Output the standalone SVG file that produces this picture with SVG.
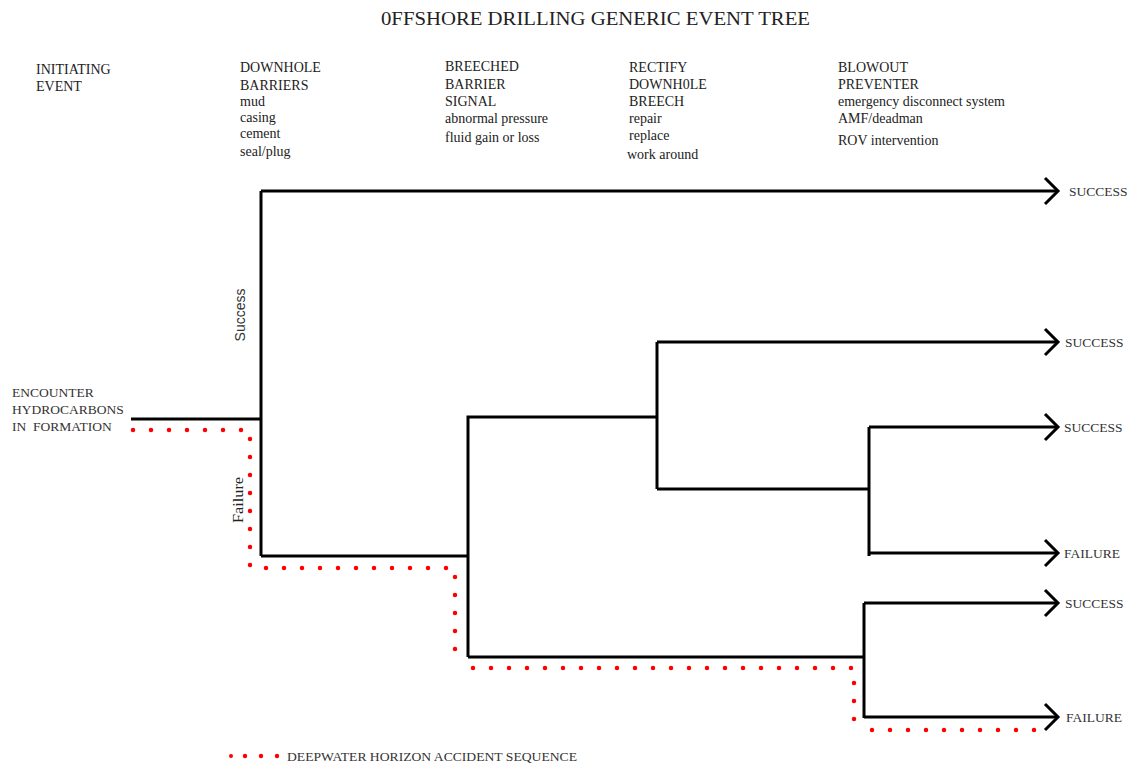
<svg xmlns="http://www.w3.org/2000/svg" width="1131" height="764" viewBox="0 0 1131 764">
<style>
.t{font-family:"Liberation Serif","Times New Roman",serif;font-size:14px;fill:#222}
.title{font-family:"Liberation Serif","Times New Roman",serif;font-size:19px;fill:#222}
.lab{font-family:"Liberation Serif","Times New Roman",serif;font-size:13.5px;fill:#333}
.sans{font-family:"Liberation Sans",Arial,sans-serif;font-size:14px;fill:#333}
.ln{fill:none;stroke:#000;stroke-width:3;stroke-linejoin:miter}
.arr{fill:none;stroke:#000;stroke-width:3;marker-end:url(#chev)}
.dots{fill:none;stroke:#ff0000;stroke-width:4.5;stroke-linecap:round;stroke-dasharray:0 18}
</style>
<defs>
<marker id="chev" markerUnits="userSpaceOnUse" viewBox="-16 -16 20 32" refX="0" refY="0" markerWidth="20" markerHeight="32" orient="auto" overflow="visible">
<path d="M-13,-13 L0,0 L-13,13" fill="none" stroke="#000" stroke-width="3"/>
</marker>
</defs>
<rect width="1131" height="764" fill="#fff"/>
<g id="title"><text class="title" x="381" y="25" textLength="429" lengthAdjust="spacingAndGlyphs">0FFSHORE DRILLING GENERIC EVENT TREE</text></g>
<g id="col-initiating">
<text class="t" x="36" y="74">INITIATING</text>
<text class="t" x="36" y="91">EVENT</text>
</g>
<g id="col-downhole">
<text class="t" x="240" y="72">DOWNHOLE</text>
<text class="t" x="240" y="90">BARRIERS</text>
<text class="t" x="240" y="106">mud</text>
<text class="t" x="240" y="122">casing</text>
<text class="t" x="240" y="138">cement</text>
<text class="t" x="240" y="156">seal/plug</text>
</g>
<g id="col-breeched">
<text class="t" x="445" y="71">BREECHED</text>
<text class="t" x="445" y="89">BARRIER</text>
<text class="t" x="445" y="106">SIGNAL</text>
<text class="t" x="445" y="123">abnormal pressure</text>
<text class="t" x="445" y="142">fluid gain or loss</text>
</g>
<g id="col-rectify">
<text class="t" x="629" y="72">RECTIFY</text>
<text class="t" x="629" y="89">DOWNH0LE</text>
<text class="t" x="629" y="106">BREECH</text>
<text class="t" x="629" y="123">repair</text>
<text class="t" x="629" y="140">replace</text>
<text class="t" x="627" y="159">work around</text>
</g>
<g id="col-bop">
<text class="t" x="838" y="72">BLOWOUT</text>
<text class="t" x="838" y="89">PREVENTER</text>
<text class="t" x="838" y="106">emergency disconnect system</text>
<text class="t" x="838" y="123">AMF/deadman</text>
<text class="t" x="838" y="145">ROV intervention</text>
</g>
<g id="initiating-event">
<text class="lab" x="12" y="397">ENCOUNTER</text>
<text class="lab" x="12" y="414">HYDROCARBONS</text>
<text class="lab" x="12" y="431">IN&#160; FORMATION</text>
</g>
<g id="branch-labels">
<text class="sans" transform="translate(245,315) rotate(-90)" text-anchor="middle">Success</text>
<text class="t" transform="translate(243,500) rotate(-90)" text-anchor="middle" font-size="15" textLength="46" lengthAdjust="spacingAndGlyphs">Failure</text>
</g>
<g id="outcomes">
<text class="lab" x="1069" y="196">SUCCESS</text>
<text class="lab" x="1065" y="347">SUCCESS</text>
<text class="lab" x="1064" y="432">SUCCESS</text>
<text class="lab" x="1064" y="558">FAILURE</text>
<text class="lab" x="1065" y="608">SUCCESS</text>
<text class="lab" x="1066" y="722">FAILURE</text>
</g>
<g id="connectors">
<path class="ln" d="M131,419 H261"/>
<path class="ln" d="M261,556 V191"/>
<path class="arr" d="M261,191 H1058"/>
<path class="ln" d="M261,556 H468"/>
<path class="ln" d="M468,657 V417 H657"/>
<path class="ln" d="M657,489 V342"/>
<path class="arr" d="M657,342 H1058"/>
<path class="ln" d="M657,489 H869"/>
<path class="ln" d="M869,556 V427"/>
<path class="arr" d="M869,427 H1058"/>
<path class="arr" d="M869,553 H1058"/>
<path class="ln" d="M468,657 H864"/>
<path class="ln" d="M864,718 V603"/>
<path class="arr" d="M864,603 H1058"/>
<path class="arr" d="M864,717 H1058"/>
</g>
<g id="accident-sequence">
<path class="dots" d="M133,430 H250 V566"/>
<path class="dots" d="M266,568 H455 V666"/>
<path class="dots" d="M473,668 H854 V729"/>
<path class="dots" d="M872,730 H1044"/>
</g>
<g id="legend">
<g fill="#ff0000"><circle cx="231" cy="756" r="2"/><circle cx="245" cy="756" r="2.2"/><circle cx="261" cy="756" r="2.2"/><circle cx="277" cy="756" r="2.2"/></g>
<text class="lab" x="287" y="761" font-size="12.5" textLength="290" lengthAdjust="spacingAndGlyphs">DEEPWATER HORIZON ACCIDENT SEQUENCE</text>
</g>
</svg>
